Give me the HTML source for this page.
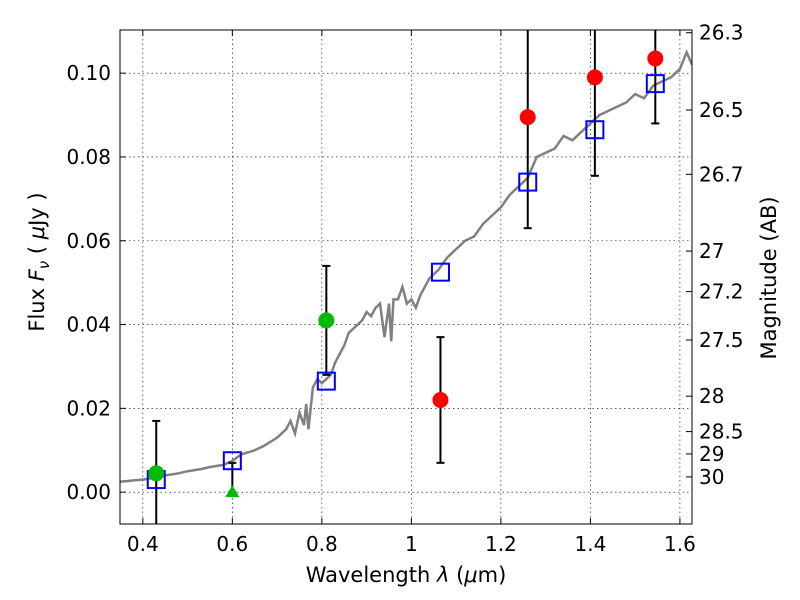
<!DOCTYPE html>
<html><head><meta charset="utf-8">
<style>
body{margin:0;background:#fff;}
svg{display:block;font-family:"DejaVu Sans","Liberation Sans",sans-serif;}
</style></head>
<body>
<svg id="chart" width="800" height="600"></svg>
<script>
const specX=[0.35,0.38,0.40,0.43,0.45,0.48,0.50,0.53,0.55,0.58,0.60,0.62,0.65,0.67,0.70,0.72,0.73,0.74,0.75,0.76,0.765,0.77,0.78,0.79,0.80,0.81,0.82,0.83,0.84,0.85,0.86,0.87,0.88,0.89,0.90,0.91,0.92,0.93,0.94,0.95,0.955,0.96,0.97,0.98,0.99,1.00,1.01,1.02,1.04,1.06,1.08,1.10,1.12,1.14,1.16,1.18,1.20,1.22,1.24,1.26,1.28,1.30,1.32,1.34,1.36,1.38,1.40,1.42,1.44,1.46,1.48,1.50,1.52,1.54,1.56,1.58,1.60,1.615,1.627];
const specY=[0.0025,0.0028,0.003,0.0035,0.004,0.0045,0.005,0.0055,0.006,0.0065,0.0075,0.009,0.010,0.011,0.013,0.015,0.017,0.014,0.019,0.016,0.021,0.015,0.025,0.027,0.026,0.027,0.028,0.031,0.033,0.035,0.038,0.039,0.040,0.041,0.043,0.042,0.044,0.045,0.037,0.045,0.036,0.046,0.046,0.049,0.045,0.046,0.044,0.047,0.051,0.053,0.056,0.058,0.060,0.061,0.064,0.066,0.068,0.071,0.073,0.075,0.080,0.081,0.082,0.085,0.084,0.086,0.088,0.090,0.091,0.092,0.093,0.095,0.094,0.097,0.098,0.099,0.101,0.105,0.102];
const modelX=[0.43,0.60,0.81,1.065,1.26,1.41,1.545];
const modelY=[0.003,0.0075,0.0265,0.0525,0.074,0.0865,0.0975];
const greenX=[0.43,0.81];
const greenY=[0.0045,0.041];
const greenLo=[-0.010,0.028];
const greenHi=[0.017,0.054];
const triX=[0.60];const triY=[0.0];const triHi=[0.007];
const redX=[1.065,1.26,1.41,1.545];
const redY=[0.022,0.0895,0.099,0.1035];
const redLo=[0.007,0.063,0.0755,0.088];
const redHi=[0.037,0.13,0.13,0.13];
const xTicks=[0.4,0.6,0.8,1.0,1.2,1.4,1.6];
const xTickLabels=["0.4","0.6","0.8","1","1.2","1.4","1.6"];
const yTicks=[0,0.02,0.04,0.06,0.08,0.10];
const yTickLabels=["0.00","0.02","0.04","0.06","0.08","0.10"];
const magTicks=[26.3,26.5,26.7,27,27.2,27.5,28,28.5,29,30];

const L=120,R=692,T=30,B=524;
const X0=0.349,X1=1.627,Y0=-0.0076,Y1=0.1103;
const sx=v=>L+(v-X0)/(X1-X0)*(R-L);
const sy=v=>B-(v-Y0)/(Y1-Y0)*(B-T);
const svg=document.getElementById('chart');
const NS="http://www.w3.org/2000/svg";
function mk(t,a,p){const e=document.createElementNS(NS,t);for(const k in a)e.setAttribute(k,a[k]);(p||svg).appendChild(e);return e;}
const clip=mk('clipPath',{id:'pc'});mk('rect',{x:L,y:T,width:R-L,height:B-T},clip);
const grid=mk('g',{});


xTicks.forEach((v,i)=>{const x=sx(v);
 mk('line',{x1:x,y1:T,x2:x,y2:B,stroke:'#000','stroke-width':0.6,'stroke-dasharray':'1.5,3'},grid);
 mk('line',{x1:x,y1:B,x2:x,y2:B-6,stroke:'#000'});mk('line',{x1:x,y1:T,x2:x,y2:T+6,stroke:'#000'});
 const t=mk('text',{x:x,y:B+27,'font-size':20,'text-anchor':'middle'});t.textContent=xTickLabels[i];
 
 
});
yTicks.forEach((v,i)=>{const y=sy(v);
 mk('line',{x1:L,y1:y,x2:R,y2:y,stroke:'#000','stroke-width':0.6,'stroke-dasharray':'1.5,3'},grid);
 mk('line',{x1:L,y1:y,x2:L+6,y2:y,stroke:'#000'});
 const t=mk('text',{x:L-9,y:y+7,'font-size':20,'text-anchor':'end'});t.textContent=yTickLabels[i];
 
 
});
magTicks.forEach(m=>{const f=Math.pow(10,(23.9-m)/2.5);const y=sy(f);
 mk('line',{x1:R,y1:y,x2:R-6,y2:y,stroke:'#000'});
 const t=mk('text',{x:R+7,y:y+7,'font-size':20});t.textContent=String(m);
 
 
});
const g=mk('g',{'clip-path':'url(#pc)'});
const sp=mk('polyline',{points:specX.map((v,i)=>sx(v)+','+sy(specY[i])).join(' '),fill:'none',stroke:'#808080','stroke-width':2.5},g);


function err(x,lo,hi){const a=sx(x);mk('line',{x1:a,y1:sy(lo),x2:a,y2:sy(hi),stroke:'#000','stroke-width':2},g);
 [lo,hi].forEach(v=>mk('line',{x1:a-4,y1:sy(v),x2:a+4,y2:sy(v),stroke:'#000','stroke-width':2},g));}
greenX.forEach((v,i)=>err(v,greenLo[i],greenHi[i]));
redX.forEach((v,i)=>err(v,redLo[i],redHi[i]));
triX.forEach((v,i)=>err(v,triY[i],triHi[i]));
modelX.forEach((v,i)=>{const r=mk('rect',{x:sx(v)-8.5,y:sy(modelY[i])-8.5,width:17,height:17,fill:'none',stroke:'#0000ff','stroke-width':2},g);
 
 });
greenX.forEach((v,i)=>{const c=mk('circle',{cx:sx(v),cy:sy(greenY[i]),r:8,fill:'#00bb00'},g);
 
 });
triX.forEach((v,i)=>{const x=sx(v),y=sy(triY[i]);const p=mk('polygon',{points:`${x},${y-7} ${x-7},${y+5} ${x+7},${y+5}`,fill:'#00bb00'},g);
 
 });
redX.forEach((v,i)=>{const c=mk('circle',{cx:sx(v),cy:sy(redY[i]),r:8,fill:'#ff0000'},g);
 
 });
const fr=mk('rect',{x:L,y:T,width:R-L,height:B-T,fill:'none',stroke:'#000','stroke-width':1});


const xl=mk('text',{x:406,y:582,'font-size':21,'text-anchor':'middle'});
xl.innerHTML='Wavelength  <tspan font-style="italic">λ</tspan> (<tspan font-style="italic">μ</tspan>m)';


const yl=mk('text',{x:44,y:262,'font-size':21,'text-anchor':'middle',transform:'rotate(-90 44 262)'});
yl.innerHTML='Flux  <tspan font-style="italic">F</tspan><tspan font-style="italic" font-size="15" dy="5">ν</tspan><tspan dy="-5">  ( </tspan><tspan font-style="italic">μ</tspan>Jy )';


const ml=mk('text',{x:776,y:278,'font-size':21,'text-anchor':'middle',transform:'rotate(-90 776 278)'});
ml.textContent='Magnitude (AB)';


</script>
</body></html>
